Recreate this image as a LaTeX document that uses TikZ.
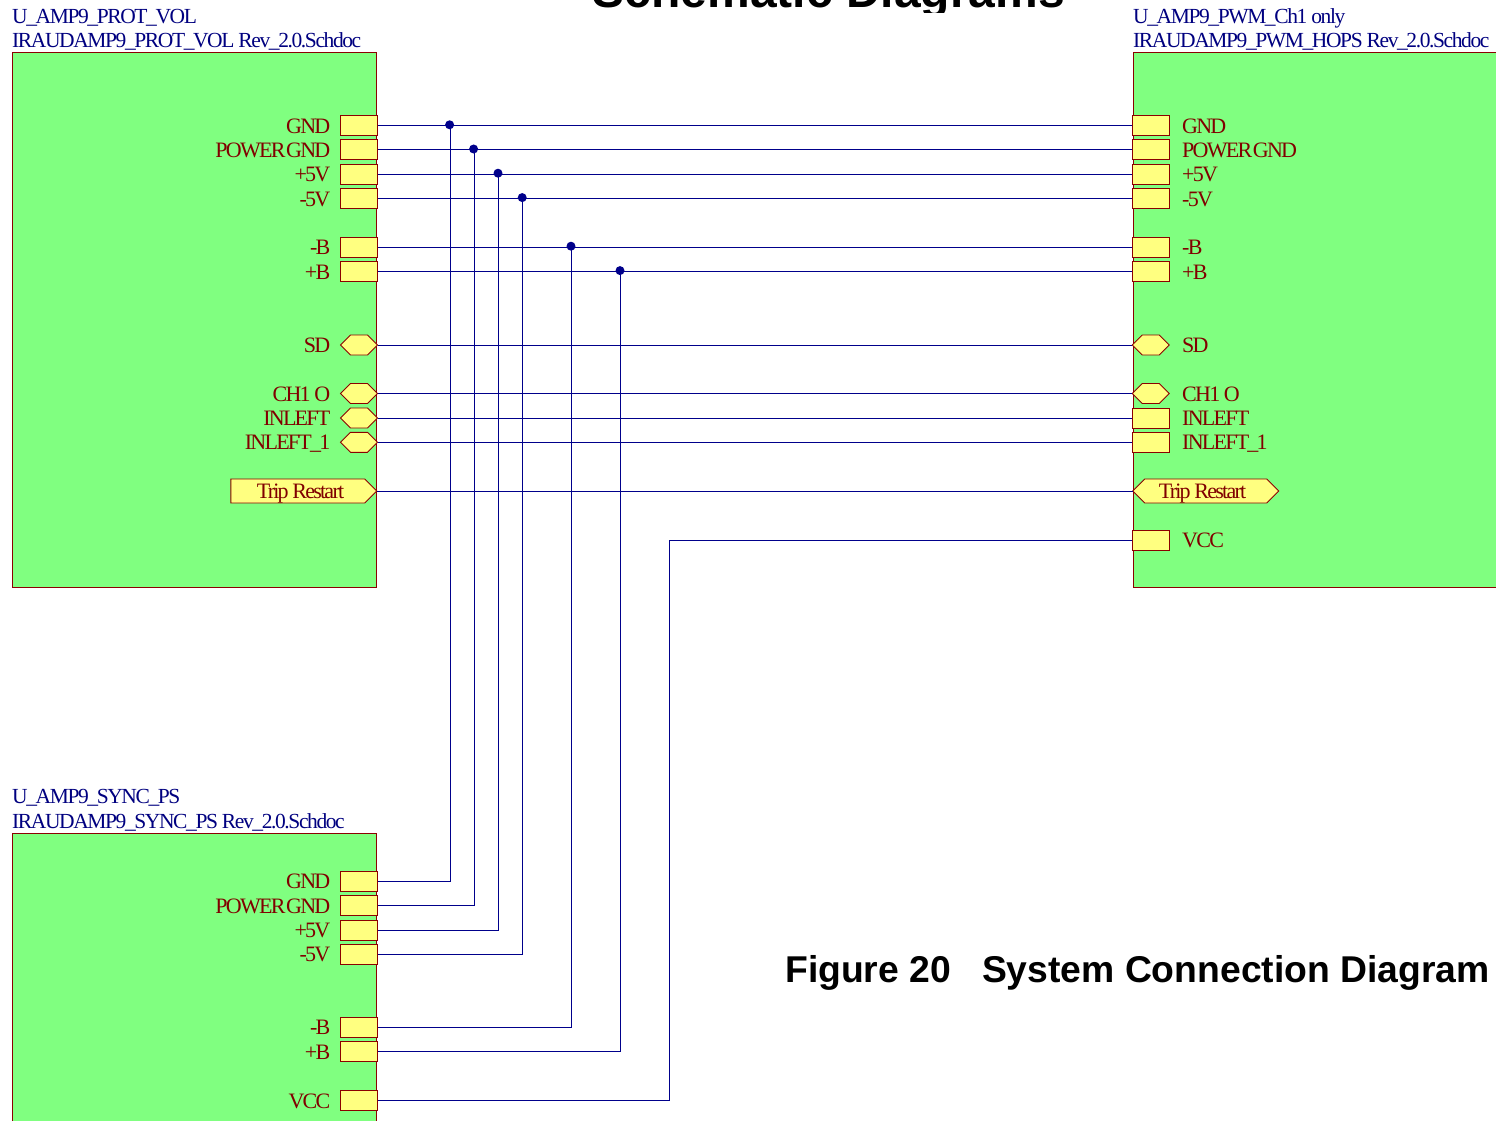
\documentclass[tikz,border=0pt]{standalone}
\usepackage{fontspec}
\setmainfont{Liberation Serif}
\newfontfamily\sch[LetterSpace=-8]{Liberation Serif}
\newfontfamily\schn[LetterSpace=-6.5]{Liberation Serif}
\newfontfamily\hd{Liberation Sans}
\usetikzlibrary{shapes.symbols}
\definecolor{sheet}{HTML}{80FF80}
\definecolor{portfill}{HTML}{FFFF80}
\definecolor{edge}{HTML}{8B0000}
\definecolor{txtred}{HTML}{800000}
\definecolor{txtblue}{HTML}{000080}
\definecolor{wire}{HTML}{00008B}
\tikzset{
  x=1pt,y=-1pt,
  sheetbox/.style={draw=edge,fill=sheet,line width=1pt},
  portrect/.style={draw=edge,fill=portfill,line width=0.9pt,minimum width=37pt,minimum height=20pt,inner sep=0pt,outer sep=0pt},
  porthex/.style={draw=edge,fill=portfill,line width=0.9pt,shape=signal,signal to=east and west,signal pointer angle=90,minimum width=37pt,minimum height=20pt,inner sep=0pt,outer sep=0pt},
  trip/.style={draw=edge,fill=portfill,line width=0.9pt,shape=signal,signal pointer angle=90,minimum height=24pt,inner sep=0pt,outer sep=0pt},
  pinl/.style={anchor=base east,text=txtred,font=\fontsize{22}{22}\sch,inner sep=0pt},
  pinr/.style={anchor=base west,text=txtred,font=\fontsize{22}{22}\sch,inner sep=0pt},
  tripname/.style={anchor=base,text=txtred,font=\fontsize{22}{22}\sch,inner sep=0pt},
  sheetname/.style={anchor=base west,text=txtblue,font=\fontsize{21.5}{22}\schn,inner sep=0pt},
  wireline/.style={draw=wire,line width=1pt},
  junction/.style={circle,fill=wire,inner sep=0pt,minimum size=9pt},
  heading/.style={anchor=base west,inner sep=0pt,text=black}
}
\newcommand{\pg}{POWER\kern-3pt\ GND}
\begin{document}
\begin{tikzpicture}
\useasboundingbox (0,0) rectangle (1496,1121);
\clip (0,0) rectangle (1496,1121);
\fill[white] (0,0) rectangle (1496,1121);
% sheets
\node[sheetbox,anchor=north west,minimum width=364pt,minimum height=534pt,inner sep=0pt] (sheetL) at (11.5,52.5) {};
\node[sheetbox,anchor=north west,minimum width=364pt,minimum height=534pt,inner sep=0pt] (sheetR) at (1132.5,52.5) {};
\node[sheetbox,anchor=north west,minimum width=364pt,minimum height=340pt,inner sep=0pt] (sheetB) at (11.5,832.5) {};
% sheet names
\node[sheetname] (n1) at (12,23.5) {U\_AMP9\_PROT\_VOL};
\node[sheetname] (n2) at (12,48) {IRAUDAMP9\_PROT\_VOL Rev\_2.0.Schdoc};
\node[sheetname] (n3) at (1133,23.5) {U\_AMP9\_PWM\_Ch1 only};
\node[sheetname] (n4) at (1133,48) {IRAUDAMP9\_PWM\_HOPS Rev\_2.0.Schdoc};
\node[sheetname] (n5) at (12,803.5) {U\_AMP9\_SYNC\_PS};
\node[sheetname] (n6) at (12,828) {IRAUDAMP9\_SYNC\_PS Rev\_2.0.Schdoc};
% headings
\begin{scope}
\clip (500,0) rectangle (1130,12.5);
\node[heading,font=\fontsize{48}{48}\bfseries\hd] (title) at (592.5,8) {Schematic Diagrams};
\end{scope}
\node[heading,font=\fontsize{37.3}{38}\bfseries\hd] (figcap) at (785,982.5) {Figure 20\hspace{31pt}System Connection Diagram};
% rectangular ports, left and right sheets
\foreach \nm/\y/\t in {gnd/125.5/GND,pgnd/149.8/\pg,pv/174/+5V,mv/198.4/-5V,mb/247/-B,pb/271.4/+B}{
  \node[portrect] (L\nm) at (359,\y) {};
  \node[pinl] (Lt\nm) at (330.5,\y+7.6) {\t};
  \node[portrect] (R\nm) at (1150.8,\y) {};
  \node[pinr] (Rt\nm) at (1182,\y+7.6) {\t};
}
% hex ports
\foreach \nm/\y/\t in {sd/345/SD,cho/393.5/CH1 O,inl/418/INLEFT,inla/442.3/INLEFT\_1}{
  \node[porthex] (L\nm) at (359,\y) {};
  \node[pinl] (Lt\nm) at (330.5,\y+7.6) {\t};
}
\foreach \nm/\y/\t in {sd/345/SD,cho/393.5/CH1 O}{
  \node[porthex] (R\nm) at (1150.8,\y) {};
  \node[pinr] (Rt\nm) at (1182,\y+7.6) {\t};
}
\foreach \nm/\y/\t in {inl/418/INLEFT,inla/442.3/INLEFT\_1,vcc/540/VCC}{
  \node[portrect] (R\nm) at (1150.8,\y) {};
  \node[pinr] (Rt\nm) at (1182,\y+7.6) {\t};
}
\node[trip,signal to=east,signal from=nowhere,minimum width=146pt] (Ltrip) at (297.8,491) {};
\node[trip,signal to=east and west,minimum width=146pt] (Rtrip) at (1205.8,491) {};
\node[tripname] (Lttrip) at (300.5,498.6) {Trip Restart};
\node[tripname] (Rttrip) at (1202.5,498.6) {Trip Restart};
% bottom sheet ports
\foreach \nm/\y/\t in {gnd/881.3/GND,pgnd/905.5/\pg,pv/930/+5V,mv/954.3/-5V,mb/1027.3/-B,pb/1051.6/+B,vcc/1100.5/VCC}{
  \node[portrect] (B\nm) at (359,\y) {};
  \node[pinl] (Bt\nm) at (330.5,\y+7.6) {\t};
}
% junctions
\node[junction] (j1) at (449.6,124.8) {};
\node[junction] (j2) at (473.6,149) {};
\node[junction] (j3) at (498,173.2) {};
\node[junction] (j4) at (522.2,197.6) {};
\node[junction] (j5) at (571,246.2) {};
\node[junction] (j6) at (620,270.6) {};
\coordinate (bend) at (669.5,540);
% wires
\foreach \nm in {gnd,pgnd,pv,mv,mb,pb,sd,cho,inl,inla,trip}{
  \draw[wireline] (L\nm.east) -- (R\nm.west);
}
\draw[wireline] ([xshift=.7pt]j1.center) |- (Bgnd.east);
\draw[wireline] ([xshift=.7pt]j2.center) |- (Bpgnd.east);
\draw[wireline] ([xshift=.7pt]j3.center) |- (Bpv.east);
\draw[wireline] ([xshift=.7pt]j4.center) |- (Bmv.east);
\draw[wireline] ([xshift=.7pt]j5.center) |- (Bmb.east);
\draw[wireline] ([xshift=.7pt]j6.center) |- (Bpb.east);
\draw[wireline] (Rvcc.west) -- (bend) |- (Bvcc.east);
\end{tikzpicture}
\end{document}
